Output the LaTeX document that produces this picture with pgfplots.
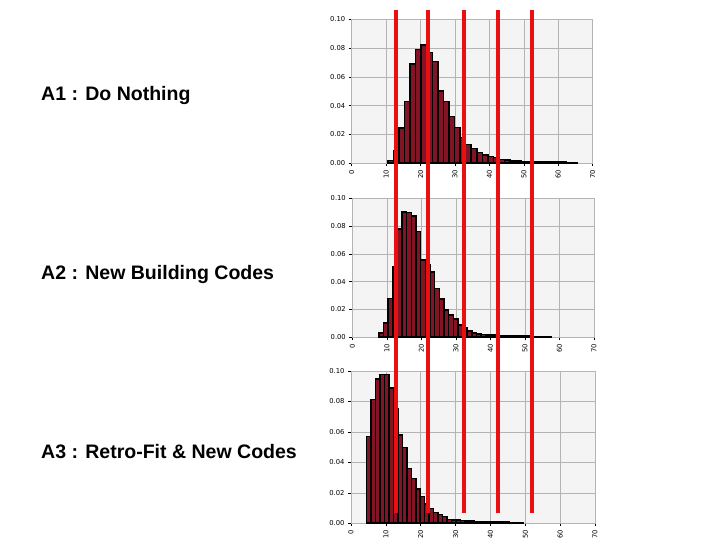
\documentclass[border=0pt]{standalone}
\usepackage{fontspec}
\setmainfont{Liberation Sans}
\newfontfamily\tickfont{DejaVu Sans}
\usepackage{pgfplots}
\pgfplotsset{compat=1.18}

\definecolor{barred}{RGB}{130,20,38}
\definecolor{gridgray}{RGB}{180,180,180}
\definecolor{bggray}{RGB}{244,244,244}
\definecolor{linered}{RGB}{232,16,16}

\pgfplotsset{
  panel/.style={
    scale only axis,
    xmin=0, xmax=70, ymin=0, ymax=0.1,
    xtick={0,10,20,30,40,50,60,70},
    ytick={0,0.02,0.04,0.06,0.08,0.1},
    grid=major,
    major grid style={gridgray, line width=0.6bp},
    axis line style={gridgray, line width=0.6bp},
    axis background/.style={fill=bggray},
    tick align=outside,
    tick pos=left,
    major tick length=3bp,
    tick style={black, line width=0.5bp},
    ticklabel style={font=\tickfont\fontsize{6.8}{7}\selectfont},
    /pgf/number format/assume math mode=true,
    yticklabel style={/pgf/number format/fixed, /pgf/number format/fixed zerofill, /pgf/number format/precision=2},
    xticklabel style={rotate=90, anchor=east},
  },
  bars/.style={ybar interval, fill=barred, draw=black, line width=1.6bp},
}

\begin{document}
\begin{tikzpicture}
\path[use as bounding box] (0,0) rectangle (720bp,540bp);

% A1 : Do Nothing
\begin{axis}[panel, anchor=south west, at={(351.7bp,376.7bp)}, width=241bp, height=144bp]
\addplot[bars] coordinates {
 (10.50,0.0020) (12.12,0.0090) (13.73,0.0245) (15.35,0.0430) (16.96,0.0690)
 (18.58,0.0790) (20.19,0.0820) (21.81,0.0770) (23.42,0.0706) (25.04,0.0500)
 (26.65,0.0430) (28.27,0.0325) (29.88,0.0248) (31.50,0.0180) (33.11,0.0130)
 (34.73,0.0104) (36.34,0.0076) (37.96,0.0056) (39.57,0.0046) (41.19,0.0040)
 (42.80,0.0025) (44.42,0.0021) (46.03,0.0017) (47.65,0.0014) (49.26,0.0012)
 (50.88,0.0011) (52.49,0.0010) (54.11,0.0009) (55.72,0.0008) (57.34,0.0008)
 (58.95,0.0007) (60.57,0.0007) (62.18,0.0006) (63.80,0.0006) (65.41,0.0006)
};
\end{axis}

% A2 : New Building Codes
\begin{axis}[panel, anchor=south west, at={(352.3bp,202.7bp)}, width=241.7bp, height=139bp]
\addplot[bars] coordinates {
 (7.65,0.0030) (9.00,0.0105) (10.35,0.0280) (11.70,0.0506) (13.05,0.0780)
 (14.40,0.0900) (15.75,0.0898) (17.10,0.0873) (18.45,0.0760) (19.80,0.0556)
 (21.15,0.0520) (22.50,0.0470) (23.85,0.0352) (25.20,0.0276) (26.55,0.0197)
 (27.90,0.0160) (29.25,0.0130) (30.60,0.0089) (31.95,0.0065) (33.30,0.0045)
 (34.65,0.0030) (36.00,0.0025) (37.35,0.0020) (38.70,0.0018) (40.05,0.0015)
 (41.40,0.0013) (42.75,0.0012) (44.10,0.0011) (45.45,0.0010) (46.80,0.0009)
 (48.15,0.0009) (49.50,0.0008) (50.85,0.0008) (52.20,0.0007) (53.55,0.0007)
 (54.90,0.0006) (56.25,0.0006) (57.60,0.0006)
};
\end{axis}

% A3 : Retro-Fit & New Codes
\begin{axis}[panel, anchor=south west, at={(351bp,16.7bp)}, width=244bp, height=152.3bp]
\addplot[bars] coordinates {
 (4.50,0.0570) (5.78,0.0814) (7.06,0.0947) (8.34,0.0978) (9.62,0.0978)
 (10.90,0.0890) (12.18,0.0755) (13.46,0.0580) (14.74,0.0499) (16.02,0.0361)
 (17.30,0.0295) (18.58,0.0225) (19.86,0.0175) (21.14,0.0125) (22.42,0.0098)
 (23.70,0.0072) (24.98,0.0059) (26.26,0.0044) (27.54,0.0026) (28.82,0.0022)
 (30.10,0.0020) (31.38,0.0018) (32.66,0.0015) (33.94,0.0014) (35.22,0.0013)
 (36.50,0.0012) (37.78,0.0010) (39.06,0.0009) (40.34,0.0008) (41.62,0.0008)
 (42.90,0.0007) (44.18,0.0007) (45.46,0.0006) (46.74,0.0006) (48.02,0.0006)
 (49.30,0.0006)
};
\end{axis}

% red threshold lines across all panels
\begin{axis}[scale only axis, hide axis, anchor=south west, at={(351.7bp,27bp)},
  width=241bp, height=503bp, xmin=0, xmax=70, ymin=0, ymax=1, clip=false]
\addplot[linered, line width=4bp] coordinates {(12.9,0) (12.9,1)};
\addplot[linered, line width=4bp] coordinates {(22.1,0) (22.1,1)};
\addplot[linered, line width=4bp] coordinates {(32.6,0) (32.6,1)};
\addplot[linered, line width=4bp] coordinates {(42.4,0) (42.4,1)};
\addplot[linered, line width=4bp] coordinates {(52.5,0) (52.5,1)};
\end{axis}

\node[anchor=base west, inner sep=0pt, font=\bfseries\fontsize{19.6}{24}\selectfont] at (41bp,439bp) {A1 : Do Nothing};
\node[anchor=base west, inner sep=0pt, font=\bfseries\fontsize{19.6}{24}\selectfont] at (41bp,260bp) {A2 : New Building Codes};
\node[anchor=base west, inner sep=0pt, font=\bfseries\fontsize{19.6}{24}\selectfont] at (41bp,81bp) {A3 : Retro-Fit \& New Codes};
\end{tikzpicture}
\end{document}
